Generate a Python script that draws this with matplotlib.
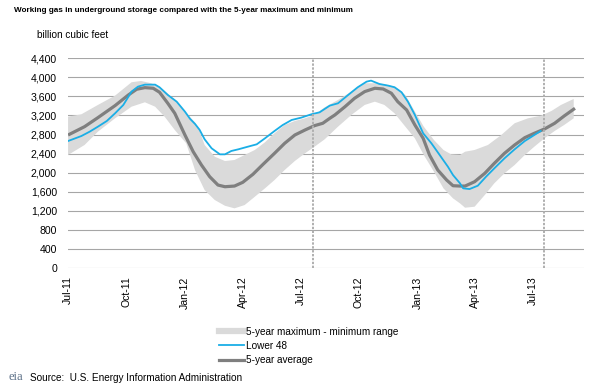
import matplotlib
matplotlib.use("Agg")
import matplotlib.pyplot as plt
import matplotlib.dates as mdates
from matplotlib.lines import Line2D
import numpy as np
import pandas as pd

plt.rcParams['font.family'] = ['Liberation Sans', 'DejaVu Sans']

# Lower 48 working gas (billion cubic feet)
lower48_dates = ["2011-07-01", "2011-07-22", "2011-08-04", "2011-08-17", "2011-08-31", "2011-09-13",
                 "2011-09-26", "2011-10-09", "2011-10-19", "2011-10-30", "2011-11-15", "2011-11-22",
                 "2011-12-05", "2011-12-19", "2012-01-01", "2012-01-09", "2012-01-17", "2012-01-24",
                 "2012-02-01", "2012-02-12", "2012-02-25", "2012-03-04", "2012-03-14", "2012-03-25",
                 "2012-04-09", "2012-04-23", "2012-05-06", "2012-05-21", "2012-06-03", "2012-06-17",
                 "2012-07-02", "2012-07-18", "2012-07-31", "2012-08-16", "2012-08-29", "2012-09-14",
                 "2012-09-29", "2012-10-13", "2012-10-20", "2012-11-02", "2012-11-16", "2012-11-26",
                 "2012-12-07", "2012-12-17", "2012-12-28", "2013-01-10", "2013-01-23", "2013-02-05",
                 "2013-02-18", "2013-02-26", "2013-03-09", "2013-03-14", "2013-03-24", "2013-04-06",
                 "2013-04-19", "2013-05-02", "2013-05-18", "2013-06-03", "2013-06-19", "2013-07-04",
                 "2013-07-14"]
lower48 = [2664, 2769, 2860, 2965, 3084, 3245, 3420, 3700, 3804, 3846, 3846, 3791,
           3630, 3489, 3280, 3130, 3020, 2900, 2700, 2511, 2385, 2385, 2455, 2490,
           2545, 2595, 2721, 2874, 3000, 3105, 3154, 3224, 3266, 3406, 3455, 3630,
           3791, 3909, 3930, 3860, 3825, 3791, 3686, 3489, 3210, 2826, 2616, 2371,
           2125, 1951, 1777, 1672, 1657, 1727, 1916, 2091, 2301, 2490, 2664, 2790,
           2874]

# 5-year average
avg_dates = ["2011-07-01", "2011-07-27", "2011-08-17", "2011-09-13", "2011-10-04", "2011-10-17",
             "2011-10-30", "2011-11-12", "2011-11-22", "2011-12-05", "2011-12-16", "2012-01-01",
             "2012-01-14", "2012-01-27", "2012-02-09", "2012-02-22", "2012-03-04", "2012-03-19",
             "2012-04-01", "2012-04-17", "2012-05-03", "2012-05-21", "2012-06-06", "2012-06-22",
             "2012-07-08", "2012-07-23", "2012-08-05", "2012-08-16", "2012-08-24", "2012-09-09",
             "2012-09-24", "2012-10-10", "2012-10-26", "2012-11-08", "2012-11-21", "2012-12-01",
             "2012-12-15", "2012-12-28", "2013-01-10", "2013-01-20", "2013-02-02", "2013-02-16",
             "2013-02-26", "2013-03-09", "2013-03-17", "2013-04-01", "2013-04-17", "2013-05-02",
             "2013-05-18", "2013-06-03", "2013-06-19", "2013-07-04", "2013-07-20", "2013-08-05",
             "2013-08-20", "2013-09-06"]
avg5 = [2790, 2965, 3154, 3406, 3630, 3749, 3783, 3770, 3686, 3455, 3245, 2790,
        2440, 2161, 1916, 1741, 1706, 1720, 1798, 1966, 2176, 2406, 2616, 2790,
        2895, 2986, 3036, 3140, 3210, 3384, 3560, 3700, 3770, 3755, 3665, 3489,
        3315, 3000, 2721, 2371, 2056, 1846, 1727, 1720, 1720, 1811, 1987, 2196,
        2406, 2581, 2734, 2826, 2916, 3036, 3189, 3350]

# 5-year maximum (upper edge of range)
max_dates = ["2011-07-01", "2011-07-22", "2011-08-17", "2011-09-13", "2011-10-09", "2011-10-24",
             "2011-11-09", "2011-11-25", "2011-12-16", "2012-01-06", "2012-01-17", "2012-01-24",
             "2012-02-01", "2012-02-17", "2012-03-04", "2012-03-19", "2012-04-04", "2012-04-20",
             "2012-05-06", "2012-05-21", "2012-06-06", "2012-06-22", "2012-07-08", "2012-07-23",
             "2012-08-08", "2012-08-29", "2012-09-19", "2012-10-10", "2012-10-26", "2012-11-10",
             "2012-11-26", "2012-12-13", "2012-12-28", "2013-01-11", "2013-01-27", "2013-02-11",
             "2013-02-23", "2013-03-09", "2013-03-17", "2013-04-01", "2013-04-22", "2013-05-13",
             "2013-06-03", "2013-06-24", "2013-07-15", "2013-07-31", "2013-08-15", "2013-09-04"]
max5 = [3175, 3224, 3420, 3615, 3896, 3923, 3875, 3770, 3525, 3210, 3050, 2880,
        2581, 2335, 2245, 2266, 2371, 2476, 2637, 2826, 3000, 3084, 3140, 3210,
        3370, 3525, 3700, 3875, 3875, 3854, 3804, 3630, 3280, 2965, 2685, 2476,
        2385, 2371, 2440, 2476, 2581, 2790, 3036, 3140, 3196, 3294, 3420, 3546]

# 5-year minimum (lower edge of range)
min_dates = ["2011-07-01", "2011-07-27", "2011-08-17", "2011-09-13", "2011-10-09", "2011-10-30",
             "2011-11-15", "2011-11-30", "2011-12-16", "2012-01-03", "2012-01-17", "2012-02-01",
             "2012-02-17", "2012-03-04", "2012-03-19", "2012-04-04", "2012-04-20", "2012-05-06",
             "2012-05-21", "2012-06-06", "2012-06-22", "2012-07-08", "2012-07-23", "2012-08-08",
             "2012-08-29", "2012-09-19", "2012-10-10", "2012-10-26", "2012-11-10", "2012-11-26",
             "2012-12-13", "2012-12-28", "2013-01-11", "2013-01-27", "2013-02-11", "2013-02-26",
             "2013-03-09", "2013-03-17", "2013-04-01", "2013-04-17", "2013-05-02", "2013-05-18",
             "2013-06-03", "2013-06-19", "2013-07-04", "2013-07-20", "2013-08-05", "2013-08-20",
             "2013-09-04"]
min5 = [2371, 2581, 2860, 3140, 3384, 3476, 3384, 3175, 2895, 2616, 2050, 1636,
        1427, 1307, 1253, 1322, 1496, 1672, 1846, 2056, 2245, 2406, 2545, 2700,
        2965, 3210, 3420, 3489, 3420, 3245, 2965, 2721, 2371, 2021, 1672, 1462,
        1357, 1266, 1287, 1532, 1777, 1987, 2161, 2371, 2545, 2721, 2874, 3000,
        3140]

# weeks marked with dashed vertical lines
marker_dates = ["2012-07-20", "2013-07-19"]

band_color = '#DADADA'
blue = '#1AAEE6'
avg_color = '#7F7F7F'
grid_color = '#A6A6A6'

fig = plt.figure(figsize=(5.97, 3.88), dpi=100)
ax = fig.add_axes([0.114, 0.309, 0.864, 0.541])

mx = mdates.date2num(pd.to_datetime(max_dates))
mn = mdates.date2num(pd.to_datetime(min_dates))
ax.fill(np.concatenate([mx, mn[::-1]]), np.concatenate([max5, min5[::-1]]),
        color=band_color, lw=0, zorder=2)

ax.plot(pd.to_datetime(avg_dates), avg5, color=avg_color, lw=2.3, zorder=3,
        solid_capstyle='butt')
ax.plot(pd.to_datetime(lower48_dates), lower48, color=blue, lw=1.3, zorder=4)

for d in marker_dates:
    ax.axvline(pd.Timestamp(d), color='#AFAFAF', lw=1.4, ls=(0, (1.2, 0.8)), zorder=5)

ax.set_ylim(0, 4400)
ax.set_yticks(np.arange(0, 4401, 400))
ax.yaxis.set_major_formatter(matplotlib.ticker.FuncFormatter(lambda v, p: f"{int(v):,}"))
ax.set_xlim(pd.Timestamp("2011-07-01"), pd.Timestamp("2013-09-20"))
ax.xaxis.set_major_locator(mdates.MonthLocator(bymonth=[1, 4, 7, 10]))
ax.xaxis.set_major_formatter(mdates.DateFormatter('%b-%y'))
plt.setp(ax.get_xticklabels(), rotation=90, va='top', ha='center')

ax.grid(axis='y', color=grid_color, lw=0.8, zorder=1)
ax.set_axisbelow(True)
for s in ax.spines.values():
    s.set_visible(False)
ax.tick_params(axis='both', length=0, labelsize=7.6, colors='black')
ax.tick_params(axis='y', pad=8)
ax.tick_params(axis='x', pad=6)

fig.text(0.023, 0.982, "Working gas in underground storage compared with the 5-year maximum and minimum",
         fontsize=5.9, fontweight='bold', va='top', ha='left')
fig.text(0.062, 0.91, "billion cubic feet", fontsize=7.2, va='center', ha='left')

handles = [Line2D([], [], color=band_color, lw=4.5),
           Line2D([], [], color=blue, lw=1.3),
           Line2D([], [], color=avg_color, lw=2.3)]
labels = ["5-year maximum - minimum range", "Lower 48", "5-year average"]
fig.legend(handles, labels, loc='upper left', bbox_to_anchor=(0.366, 0.158),
           frameon=False, fontsize=7.2, handlelength=2.5, handletextpad=0.2,
           labelspacing=0.42, borderpad=0, borderaxespad=0)

fig.text(0.014, 0.012, "eia", fontsize=9, family='Liberation Serif', color='#5A6E86',
         va='bottom', ha='left')
fig.text(0.05, 0.014, "Source:  U.S. Energy Information Administration", fontsize=7.2,
         va='bottom', ha='left')

fig.savefig("out.png", dpi=100)
